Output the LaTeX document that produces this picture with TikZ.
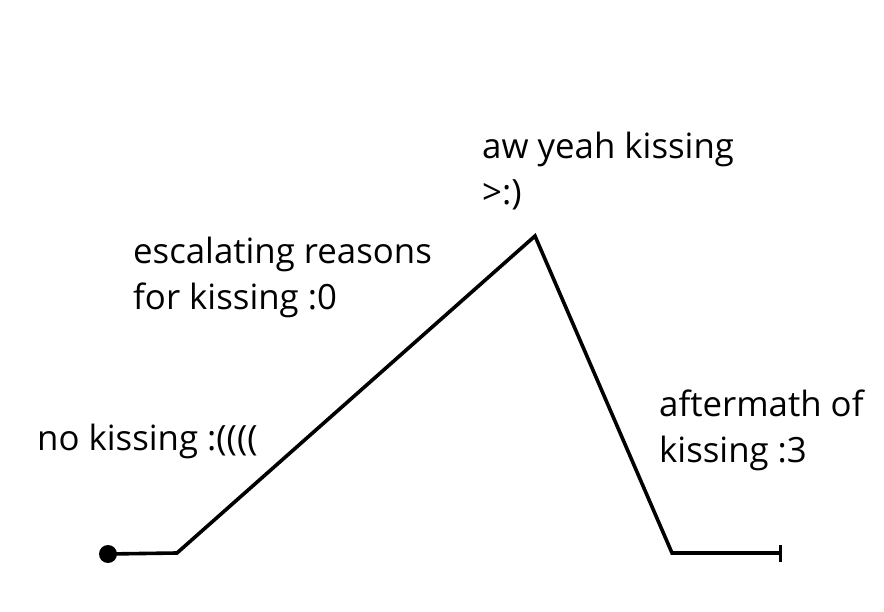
\documentclass[tikz,border=0pt]{standalone}
\usepackage{fontspec}
\setmainfont{Open Sans}
\begin{document}
\begin{tikzpicture}[x=1pt,y=-1pt,
  lbl/.style={anchor=base west,inner sep=0pt,align=left,font=\fontsize{34.8}{46}\selectfont},
  curve/.style={line width=3.6pt,line join=miter,black}]
\useasboundingbox[fill=white] (0,0) rectangle (884,612);
\coordinate (start) at (108,554);
\coordinate (a) at (177,553);
\coordinate (peak) at (535,236);
\coordinate (b) at (672,553);
\coordinate (end) at (780,553);
\draw[curve] (start) -- (a) -- (peak) -- (b) -- (end);
\fill (start) circle (9);
\draw[line width=3pt] (780,545) -- (780,562);
\node[lbl] (n1) at (482,205) {aw yeah kissing\\>:)};
\node[lbl] (n2) at (133,310) {escalating reasons\\for kissing :0};
\node[lbl] (n3) at (37,450) {no kissing :((((};
\node[lbl] (n4) at (659,462) {aftermath of\\kissing :3};
\end{tikzpicture}
\end{document}
